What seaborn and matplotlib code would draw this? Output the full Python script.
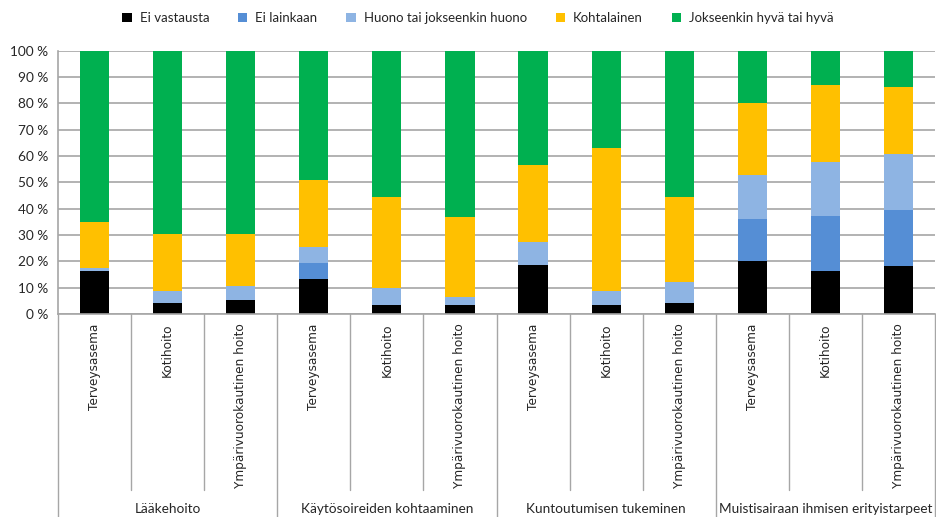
import seaborn as sns
import pandas as pd
import numpy as np
import matplotlib
matplotlib.use("Agg")
import matplotlib.pyplot as plt
import matplotlib.transforms as mtrans
from matplotlib.patches import Patch

groups = ["Lääkehoito", "Käytösoireiden kohtaaminen",
          "Kuntoutumisen tukeminen", "Muistisairaan ihmisen erityistarpeet"]
services = ["Terveysasema", "Kotihoito", "Ympärivuorokautinen hoito"]

series = ["Ei vastausta", "Ei lainkaan", "Huono tai jokseenkin huono",
          "Kohtalainen", "Jokseenkin hyvä tai hyvä"]
colors = ["#000000", "#558ED5", "#8EB4E3", "#FFC000", "#00B050"]

# shares in %, bar order: group by group, service by service
ei_vastausta = [16.3, 4.3, 5.4, 13.3, 3.3, 3.3, 18.5, 3.3, 4.3, 20.1, 16.5, 18.1]
ei_lainkaan = [0.0, 0.0, 0.0, 6.2, 0.0, 0.0, 0.0, 0.0, 0.0, 16.1, 20.6, 21.3]
huono = [1.0, 4.4, 5.4, 5.9, 6.4, 3.3, 8.7, 5.6, 7.7, 16.5, 20.6, 21.2]
kohtalainen = [17.5, 21.8, 19.7, 25.5, 34.9, 30.4, 29.4, 54.3, 32.6, 27.3, 29.4, 25.7]
hyva = [65.2, 69.5, 69.5, 49.1, 55.4, 63.0, 43.4, 36.8, 55.4, 20.0, 12.9, 13.7]

keys = [f"{g}|{s}" for g in groups for s in services]
df = pd.DataFrame({"key": keys, series[0]: ei_vastausta, series[1]: ei_lainkaan,
                   series[2]: huono, series[3]: kohtalainen, series[4]: hyva})
cum = df[series].cumsum(axis=1)

sns.set_style("white")
plt.rcParams["font.family"] = ["Lato", "DejaVu Sans"]

fig = plt.figure(figsize=(9.36, 5.17), dpi=100)
ax = fig.add_axes([58 / 936, 1 - 314 / 517, 877 / 936, 263.3 / 517])

# stacked bars: draw the cumulative totals from the top layer down
for name, col in reversed(list(zip(series, colors))):
    sns.barplot(x=df["key"], y=cum[name], color=col, width=0.4,
                saturation=1, order=keys, ax=ax, edgecolor="none")

ax.set_ylim(0, 100)
ax.set_xlim(-0.5, len(keys) - 0.5)
ax.set_yticks(np.arange(0, 101, 10))
ax.set_yticklabels([f"{v} %" for v in range(0, 101, 10)], fontsize=9.8)
ax.yaxis.grid(True, color="#a6a6a6", linewidth=1.2)
ax.set_axisbelow(True)
ax.set_xlabel("")
ax.set_ylabel("")
for s in ["top", "right"]:
    ax.spines[s].set_visible(False)
for s in ["left", "bottom"]:
    ax.spines[s].set_color("#a6a6a6")
    ax.spines[s].set_linewidth(1.2)
ax.tick_params(axis="y", length=4, color="#a6a6a6", pad=3)
ax.set_xticks([])

trans = mtrans.blended_transform_factory(ax.transData, ax.transAxes)
for i, k in enumerate(keys):
    ax.text(i, -0.035, k.split("|")[1], rotation=90, ha="center", va="top",
            fontsize=8.7, family=["DejaVu Sans"], transform=trans)
for i in range(len(keys) + 1):
    bottom = -0.771 if i % 3 == 0 else -0.668
    ax.plot([i - 0.5, i - 0.5], [0, bottom], color="#a6a6a6", lw=1.0,
            transform=trans, clip_on=False)
for gi, g in enumerate(groups):
    ax.text(gi * 3 + 1, -0.74, g, ha="center", va="center", fontsize=9.8,
            transform=trans)

handles = [Patch(facecolor=c, edgecolor="none") for c in colors]
fig.legend(handles, series, loc="center", bbox_to_anchor=(478 / 936, 1 - 18 / 517),
           ncol=5, frameon=False, fontsize=9.5, handlelength=0.7, handleheight=0.7,
           columnspacing=2.2, handletextpad=0.6)

fig.savefig("out.png", dpi=100)
